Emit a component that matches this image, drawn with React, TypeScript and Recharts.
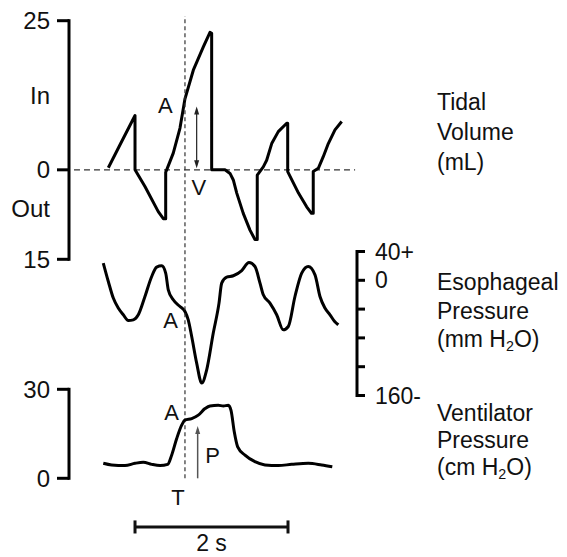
import React from 'react';
import { LineChart, Line, XAxis, YAxis, ReferenceLine, ReferenceDot } from 'recharts';

const FONT = '"Liberation Sans", Arial, Helvetica, sans-serif';
const T_MAX = 3.765; // seconds shown across the plot
const MARK_T = 1.516; // time of the dashed marker line

// Tidal volume (mL), + = in, - = out
const tidalTime = [0.514, 0.667, 0.863, 0.863, 0.993, 1.167, 1.233, 1.264, 1.264, 1.277, 1.363, 1.451, 1.516, 1.625, 1.756, 1.843, 1.865, 1.865, 2.039, 2.105, 2.148, 2.193, 2.278, 2.366, 2.431, 2.461, 2.461, 2.54, 2.584, 2.65, 2.736, 2.846, 2.859, 2.859, 3.0, 3.107, 3.17, 3.193, 3.193, 3.259, 3.324, 3.39, 3.477, 3.565];
const tidalVolume = [0.35, 4.2, 9.1, 0, -2.8, -7.0, -8.2, -8.2, -0.4, 0, 2.8, 7.0, 11.9, 16.7, 20.6, 23.05, 22.9, 0, 0, -0.6, -1.7, -3.9, -7.3, -10.1, -11.7, -11.7, -0.9, 0.5, 1.6, 4.4, 6.4, 7.8, 7.8, -0.3, -3.9, -6.2, -7.3, -7.3, -0.3, 0.25, 2.2, 4.4, 6.7, 8.1];

// Esophageal pressure (mm H2O)
const esoTime = [0.448, 0.514, 0.579, 0.644, 0.71, 0.775, 0.841, 0.906, 0.993, 1.081, 1.146, 1.212, 1.264, 1.298, 1.363, 1.451, 1.516, 1.559, 1.604, 1.669, 1.735, 1.8, 1.886, 1.961, 1.996, 2.061, 2.148, 2.258, 2.353, 2.431, 2.497, 2.54, 2.627, 2.715, 2.801, 2.867, 2.954, 3.042, 3.128, 3.216, 3.281, 3.346, 3.412, 3.473, 3.52];
const esoPressure = [23.9, -1.7, -24.7, -38.6, -47.9, -55.8, -54.9, -47.9, -22.5, 5.3, 18.3, 20.1, 10, -13.2, -27.1, -36.4, -43.3, -54.9, -78.1, -115, -142.8, -124.3, -73.3, -31.7, -3.9, 4.4, 6.3, 13.6, 24.7, 19.2, -3.9, -20.1, -31.7, -47.9, -68.8, -64.2, -22.5, 10, 19.2, 7.6, -22.5, -38.6, -47.9, -57.2, -61.8];

// Ventilator pressure (cm H2O)
const ventTime = [0.448, 0.557, 0.732, 0.863, 0.971, 1.081, 1.19, 1.29, 1.342, 1.408, 1.473, 1.516, 1.604, 1.69, 1.778, 1.843, 1.951, 2.017, 2.083, 2.118, 2.161, 2.205, 2.301, 2.431, 2.562, 2.736, 2.911, 3.128, 3.303, 3.442];
const ventPressure = [5.06, 4.5, 4.3, 5.06, 5.4, 4.7, 4.3, 4.7, 7.8, 13.4, 17.9, 19.6, 20.1, 21.3, 23.5, 24.4, 24.6, 24.4, 24.6, 22.9, 15.6, 10.6, 7.8, 5.6, 4.5, 4.3, 4.7, 5.06, 4.5, 3.9];

// Axis ticks
const tidalTicks = [25, 12.5, 0, -6.4, -15];
const tidalTickLabels = ['25', 'In', '0', 'Out', '15'];
const tidalTickMarked = [true, false, true, false, true];

const esoTicks = [40, 0, -40, -80, -120, -160];
const esoTickLabels = ['40+', '0', '', '', '', '160-'];

const ventTicks = [30, 0];
const ventTickLabels = ['30', '0'];
const ventTickMarked = [true, true];

// Scale bar (2 s) in ventilator-axis units, and marker extents
const SCALE_START = 0.863;
const SCALE_LEN = 2;
const SCALE_Y = -16.4;
const MARK_TOP_VENT = 155.8;

const tidalData = tidalTime.map((t, i) => ({ t, v: tidalVolume[i] }));
const esoData = esoTime.map((t, i) => ({ t, v: esoPressure[i] }));
const ventData = ventTime.map((t, i) => ({ t, v: ventPressure[i] }));

const W = 567;
const H = 557;
const TICK_SIZE = 12;
const TICK_MARGIN = 7;

const makeLeftTick = (ticks: number[], labels: string[], marked: boolean[]) => (props: any) => {
  const { x, y, payload } = props;
  const i = ticks.indexOf(payload.value);
  return (
    <g>
      {marked[i] && (
        <line x1={x + TICK_MARGIN} x2={x + TICK_MARGIN + TICK_SIZE} y1={y} y2={y} stroke="#000" strokeWidth={3} />
      )}
      <text x={x} y={y} dy="0.36em" textAnchor="end" fontSize={24} fontFamily={FONT} fill="#111">
        {labels[i]}
      </text>
    </g>
  );
};

const DoubleArrow = (props: any) => {
  const { x1, y1, y2 } = props;
  const top = Math.min(y1, y2);
  const bot = Math.max(y1, y2);
  return (
    <g>
      <line x1={x1} x2={x1} y1={top + 3} y2={bot - 3} stroke="#222" strokeWidth={1.2} />
      <path d={`M${x1 - 2.5},${top + 8} L${x1},${top} L${x1 + 2.5},${top + 8} Z`} fill="#222" />
      <path d={`M${x1 - 2.5},${bot - 8} L${x1},${bot} L${x1 + 2.5},${bot - 8} Z`} fill="#222" />
    </g>
  );
};

const UpArrow = (props: any) => {
  const { x1, y1, y2 } = props;
  const top = Math.min(y1, y2);
  const bot = Math.max(y1, y2);
  return (
    <g>
      <line x1={x1} x2={x1} y1={top + 3} y2={bot} stroke="#555" strokeWidth={1.5} />
      <path d={`M${x1 - 2.5},${top + 8} L${x1},${top} L${x1 + 2.5},${top + 8} Z`} fill="#555" />
    </g>
  );
};

const labelStyle = (value: string) => ({ value, position: 'center' as const, fontSize: 22, fill: '#111', fontFamily: FONT });

const layer: React.CSSProperties = { position: 'absolute', left: 0, top: 0 };

const sideLabel = (top: number, lh: number): React.CSSProperties => ({
  position: 'absolute',
  left: 437,
  top,
  fontFamily: FONT,
  fontSize: 23,
  lineHeight: `${lh}px`,
  color: '#111',
  whiteSpace: 'nowrap',
});

const subStyle: React.CSSProperties = { fontSize: '0.62em', lineHeight: 0, verticalAlign: '-0.3em' };

export default function App() {
  return (
    <div style={{ position: 'absolute', left: 0, top: 0, width: W, height: H, background: '#fff', overflow: 'hidden' }}>
      {/* Tidal volume */}
      <div style={layer}>
        <LineChart width={W} height={H} data={tidalData} margin={{ top: 20.7, bottom: H - 259.3, left: 0, right: W - 357 }}>
          <XAxis dataKey="t" type="number" domain={[0, T_MAX]} hide />
          <YAxis
            type="number"
            domain={[-15, 25]}
            ticks={tidalTicks}
            interval={0}
            width={69}
            tickSize={TICK_SIZE}
            tickMargin={TICK_MARGIN}
            tickLine={false}
            axisLine={{ stroke: '#000', strokeWidth: 3, strokeLinecap: 'square' }}
            tick={makeLeftTick(tidalTicks, tidalTickLabels, tidalTickMarked)}
          />
          <ReferenceLine
            segment={[{ x: 0.065, y: 0 }, { x: 3.74, y: 0 }]}
            stroke="#333"
            strokeWidth={1.3}
            strokeDasharray="6 4"
            ifOverflow="visible"
          />
          <Line type="linear" dataKey="v" stroke="#000" strokeWidth={3} dot={false} activeDot={false} isAnimationActive={false} strokeLinejoin="round" />
          <ReferenceLine segment={[{ x: 1.669, y: 10.6 }, { x: 1.669, y: 0.25 }]} ifOverflow="visible" shape={DoubleArrow} />
          <ReferenceDot x={1.261} y={10.86} r={0} fill="none" stroke="none" ifOverflow="visible" label={labelStyle('A')} />
          <ReferenceDot x={1.699} y={-2.97} r={0} fill="none" stroke="none" ifOverflow="visible" label={labelStyle('V')} />
        </LineChart>
      </div>

      {/* Esophageal pressure */}
      <div style={layer}>
        <LineChart width={W} height={H} data={esoData} margin={{ top: 251.5, bottom: H - 395.5, left: 69, right: 0 }}>
          <XAxis dataKey="t" type="number" domain={[0, T_MAX]} hide />
          <YAxis
            orientation="right"
            type="number"
            domain={[-160, 40]}
            ticks={esoTicks}
            interval={0}
            width={W - 357}
            tickSize={8}
            tickMargin={10}
            tickLine={{ stroke: '#000', strokeWidth: 3 }}
            axisLine={{ stroke: '#000', strokeWidth: 3, strokeLinecap: 'square' }}
            tick={{ fontSize: 23, fill: '#111', fontFamily: FONT }}
            tickFormatter={(v: number) => esoTickLabels[esoTicks.indexOf(v)]}
          />
          <Line type="monotone" dataKey="v" stroke="#000" strokeWidth={3} dot={false} activeDot={false} isAnimationActive={false} />
          <ReferenceDot x={1.327} y={-54.9} r={0} fill="none" stroke="none" ifOverflow="visible" label={labelStyle('A')} />
        </LineChart>
      </div>

      {/* Ventilator pressure */}
      <div style={layer}>
        <LineChart width={W} height={H} data={ventData} margin={{ top: 389.3, bottom: H - 478.3, left: 0, right: W - 357 }}>
          <XAxis dataKey="t" type="number" domain={[0, T_MAX]} hide />
          <YAxis
            type="number"
            domain={[0, 30]}
            ticks={ventTicks}
            interval={0}
            width={69}
            tickSize={TICK_SIZE}
            tickMargin={TICK_MARGIN}
            tickLine={false}
            axisLine={{ stroke: '#000', strokeWidth: 3, strokeLinecap: 'square' }}
            tick={makeLeftTick(ventTicks, ventTickLabels, ventTickMarked)}
          />
          <ReferenceLine
            segment={[{ x: MARK_T, y: 0 }, { x: MARK_T, y: MARK_TOP_VENT }]}
            stroke="#333"
            strokeWidth={1.2}
            strokeDasharray="4 3"
            ifOverflow="visible"
          />
          <Line type="monotone" dataKey="v" stroke="#000" strokeWidth={3} dot={false} activeDot={false} isAnimationActive={false} />
          <ReferenceLine segment={[{ x: 1.682, y: 17.6 }, { x: 1.682, y: 0 }]} ifOverflow="visible" shape={UpArrow} />
          <ReferenceDot x={1.34} y={22.2} r={0} fill="none" stroke="none" ifOverflow="visible" label={labelStyle('A')} />
          <ReferenceDot x={1.876} y={7.85} r={0} fill="none" stroke="none" ifOverflow="visible" label={labelStyle('P')} />
          <ReferenceDot x={1.425} y={-6.2} r={0} fill="none" stroke="none" ifOverflow="visible" label={labelStyle('T')} />
          {/* 2 s scale bar */}
          <ReferenceLine
            segment={[{ x: SCALE_START, y: SCALE_Y }, { x: SCALE_START + SCALE_LEN, y: SCALE_Y }]}
            stroke="#111"
            strokeWidth={3}
            ifOverflow="visible"
          />
          <ReferenceLine
            segment={[{ x: SCALE_START, y: SCALE_Y + 2.2 }, { x: SCALE_START, y: SCALE_Y - 2.2 }]}
            stroke="#111"
            strokeWidth={3}
            ifOverflow="visible"
          />
          <ReferenceLine
            segment={[{ x: SCALE_START + SCALE_LEN, y: SCALE_Y + 2.2 }, { x: SCALE_START + SCALE_LEN, y: SCALE_Y - 2.2 }]}
            stroke="#111"
            strokeWidth={3}
            ifOverflow="visible"
          />
          <ReferenceDot x={SCALE_START + SCALE_LEN / 2} y={-21.8} r={0} fill="none" stroke="none" ifOverflow="visible" label={{ ...labelStyle('2 s'), fontSize: 23 }} />
        </LineChart>
      </div>

      {/* Trace titles */}
      <div style={sideLabel(87, 30)}>
        Tidal<br />Volume<br />(mL)
      </div>
      <div style={sideLabel(268, 28.5)}>
        Esophageal<br />Pressure<br />(mm H<sub style={subStyle}>2</sub>O)
      </div>
      <div style={sideLabel(399.5, 27)}>
        Ventilator<br />Pressure<br />(cm H<sub style={subStyle}>2</sub>O)
      </div>
    </div>
  );
}
